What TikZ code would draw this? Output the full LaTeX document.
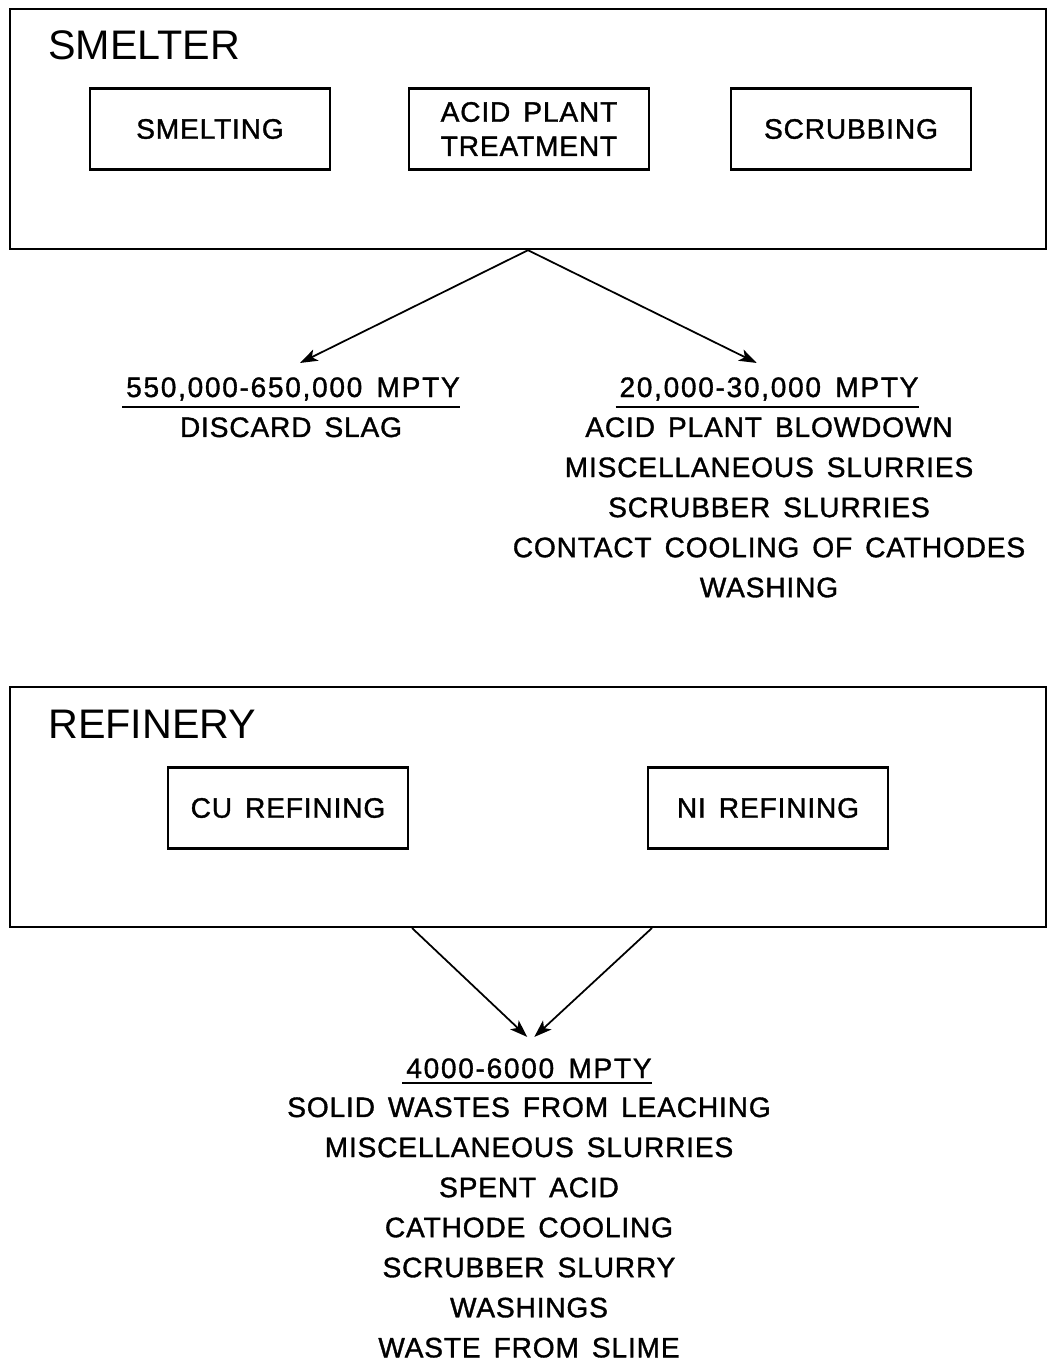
\documentclass[tikz,border=0pt]{standalone}
\usepackage{fontspec}
\setmainfont{Liberation Sans}
\newfontfamily\lblfont{Liberation Sans}[FakeBold=1.2, LetterSpace=3, WordSpace=1.5]
\newfontfamily\amtfont{Liberation Sans}[FakeBold=1.2, LetterSpace=6, WordSpace=1.5]
\usetikzlibrary{arrows.meta,positioning}

\tikzset{
	plant/.style={draw, line width=1.4pt, minimum width=20.72cm, minimum height=4.8cm},
	stage/.style={draw, line width=1.2pt, minimum width=4.8cm, minimum height=1.62cm,
		align=center, font=\lblfont\fontsize{16}{19.5}\selectfont},
	title/.style={anchor=base west, inner sep=0pt, font=\fontsize{23.5}{28}\selectfont},
	amount/.style={anchor=base, inner sep=0pt, font=\amtfont\fontsize{16}{19}\selectfont},
	wastes/.style={anchor=north, inner sep=0pt, align=center, font=\lblfont\fontsize{16}{22.8}\selectfont},
	flow/.style={line width=1pt, -{Stealth[length=10pt, width=7pt, inset=2.5pt]}},
	rule/.style={line width=1pt}
}

\begin{document}
\begin{tikzpicture}[x=0.02cm, y=-0.02cm]
	\useasboundingbox (0,0) rectangle (1054,1362);

	% smelter
	\node[plant] (smelter) at (528,129) {};
	\node[title] (smt) at (48,60) {SMELTER};
	\node[stage] (smelting) at (210,129) {SMELTING};
	\node[stage] (acid) at (529,129) {ACID PLANT\\TREATMENT};
	\node[stage] (scrub) at (851,129) {SCRUBBING};

	\node[amount] (slagamt) at (293,397) {550,000-650,000 MPTY};
	\draw[rule] ([xshift=-2pt,yshift=-5.5pt]slagamt.base west) -- ([xshift=0pt,yshift=-5.5pt]slagamt.base east);
	\node[wastes] (slag) at (291,417) {DISCARD SLAG};

	\node[amount] (smtamt) at (769,397) {20,000-30,000 MPTY};
	\draw[rule] ([xshift=-2pt,yshift=-5.5pt]smtamt.base west) -- ([xshift=0pt,yshift=-5.5pt]smtamt.base east);
	\node[wastes] (smtlist) at (769,417) {ACID PLANT BLOWDOWN\\MISCELLANEOUS SLURRIES\\SCRUBBER SLURRIES\\CONTACT COOLING OF CATHODES\\WASHING};

	\draw[flow] (smelter.south) -- ([xshift=4pt,yshift=8pt]slagamt.north);
	\draw[flow] (smelter.south) -- ([xshift=-7pt,yshift=8pt]smtamt.north);

	% refinery
	\node[plant] (refinery) at (528,807) {};
	\node[title] (ref) at (48,738) {REFINERY};
	\node[stage] (cu) at (288,808) {CU REFINING};
	\node[stage] (ni) at (768,808) {NI REFINING};

	\coordinate (cuout) at (412,928);
	\coordinate (niout) at (652,928);
	\node[amount] (refamt) at (529,1078) {4000-6000 MPTY};
	\draw[rule] ([xshift=-2pt,yshift=-3pt]refamt.base west) -- ([xshift=0pt,yshift=-3pt]refamt.base east);
	\node[wastes] (reflist) at (529,1097) {SOLID WASTES FROM LEACHING\\MISCELLANEOUS SLURRIES\\SPENT ACID\\CATHODE COOLING\\SCRUBBER SLURRY\\WASHINGS\\WASTE FROM SLIME};

	\draw[flow] (cuout) -- ([xshift=-1pt,yshift=12pt]refamt.north);
	\draw[flow] (niout) -- ([xshift=3pt,yshift=12pt]refamt.north);
\end{tikzpicture}
\end{document}
